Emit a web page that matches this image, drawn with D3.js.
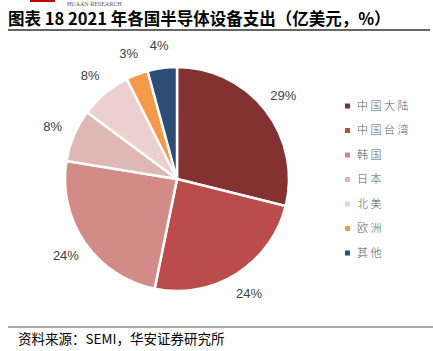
<!DOCTYPE html>
<html>
<head>
<meta charset="utf-8">
<script src="https://cdn.jsdelivr.net/npm/d3@7"></script>
<style>
  body { margin: 0; background: #fff; }
  svg { display: block; }
</style>
</head>
<body>
<svg id="chart"></svg>
<script>
// 2021 semiconductor equipment spending by region (USD 100M)
var regions = ["中国大陆", "中国台湾", "韩国", "日本", "北美", "欧洲", "其他"];
var spending = [296.2, 249.4, 249.8, 78.0, 76.1, 32.5, 43.5];
var pctLabels = ["29%", "24%", "24%", "8%", "8%", "3%", "4%"];
var colors = ["#843132", "#bb4c4b", "#d38b88", "#dfb8b6", "#ebd0cf", "#f5994b", "#2b4d77"];

var width = 433, height = 351;
var cx = 177, cy = 179, r = 112;

var svg = d3.select("#chart").attr("width", width).attr("height", height);

// logo strip at the top
svg.append("rect").attr("x", 30).attr("y", 0).attr("width", 25).attr("height", 2).attr("fill", "#c00000");
svg.append("text")
  .attr("x", 67).attr("y", 5.5)
  .text("HUAAN RESEARCH")
  .style("font-family", "Liberation Serif, serif")
  .style("font-size", "6px")
  .style("fill", "#555");

svg.append("text")
  .attr("x", 8).attr("y", 25)
  .text("图表 18 2021 年各国半导体设备支出（亿美元，%）")
  .style("font-family", "Noto Sans CJK SC, sans-serif")
  .style("font-weight", "bold")
  .style("font-size", "16.5px")
  .style("fill", "#000");

svg.append("line")
  .attr("x1", 8).attr("x2", 430).attr("y1", 30).attr("y2", 30)
  .attr("stroke", "#333").attr("stroke-width", 1.3);

var pie = d3.pie().sort(null).value(function (d) { return d; });
var arcs = pie(spending);
var arc = d3.arc().innerRadius(0).outerRadius(r);
var labelArc = d3.arc().innerRadius(r + 23).outerRadius(r + 23);

var g = svg.append("g").attr("transform", "translate(" + cx + "," + cy + ")");

g.selectAll("path")
  .data(arcs)
  .enter()
  .append("path")
  .attr("d", arc)
  .attr("fill", function (d, i) { return colors[i]; })
  .attr("stroke", "#fff")
  .attr("stroke-width", 2.5);

g.selectAll(".lbl")
  .data(arcs)
  .enter()
  .append("text")
  .attr("class", "lbl")
  .attr("transform", function (d) {
    var c = labelArc.centroid(d);
    return "translate(" + c[0] + "," + c[1] + ")";
  })
  .attr("text-anchor", "middle")
  .attr("dy", "0.35em")
  .text(function (d, i) { return pctLabels[i]; })
  .style("font-family", "Liberation Sans, Arial, sans-serif")
  .style("font-size", "13px")
  .style("fill", "#404040");

// legend
var legend = svg.selectAll(".leg")
  .data(regions)
  .enter()
  .append("g")
  .attr("class", "leg")
  .attr("transform", function (d, i) { return "translate(345," + (106 + i * 24.5) + ")"; });

legend.append("rect")
  .attr("x", 0).attr("y", -2.5)
  .attr("width", 5).attr("height", 5)
  .attr("fill", function (d, i) { return colors[i]; });

legend.append("text")
  .attr("x", 12).attr("dy", "0.35em")
  .text(function (d) { return d; })
  .style("font-family", "Noto Sans CJK SC, sans-serif")
  .style("font-size", "11px")
  .style("font-weight", "300")
  .style("letter-spacing", "2.5px")
  .style("fill", "#595959");

svg.append("line")
  .attr("x1", 8).attr("x2", 433).attr("y1", 327).attr("y2", 327)
  .attr("stroke", "#555").attr("stroke-width", 1.2);

svg.append("text")
  .attr("x", 18).attr("y", 344)
  .text("资料来源：SEMI，华安证券研究所")
  .style("font-family", "Noto Sans CJK SC, sans-serif")
  .style("font-size", "13.5px")
  .style("fill", "#000");
</script>
</body>
</html>
